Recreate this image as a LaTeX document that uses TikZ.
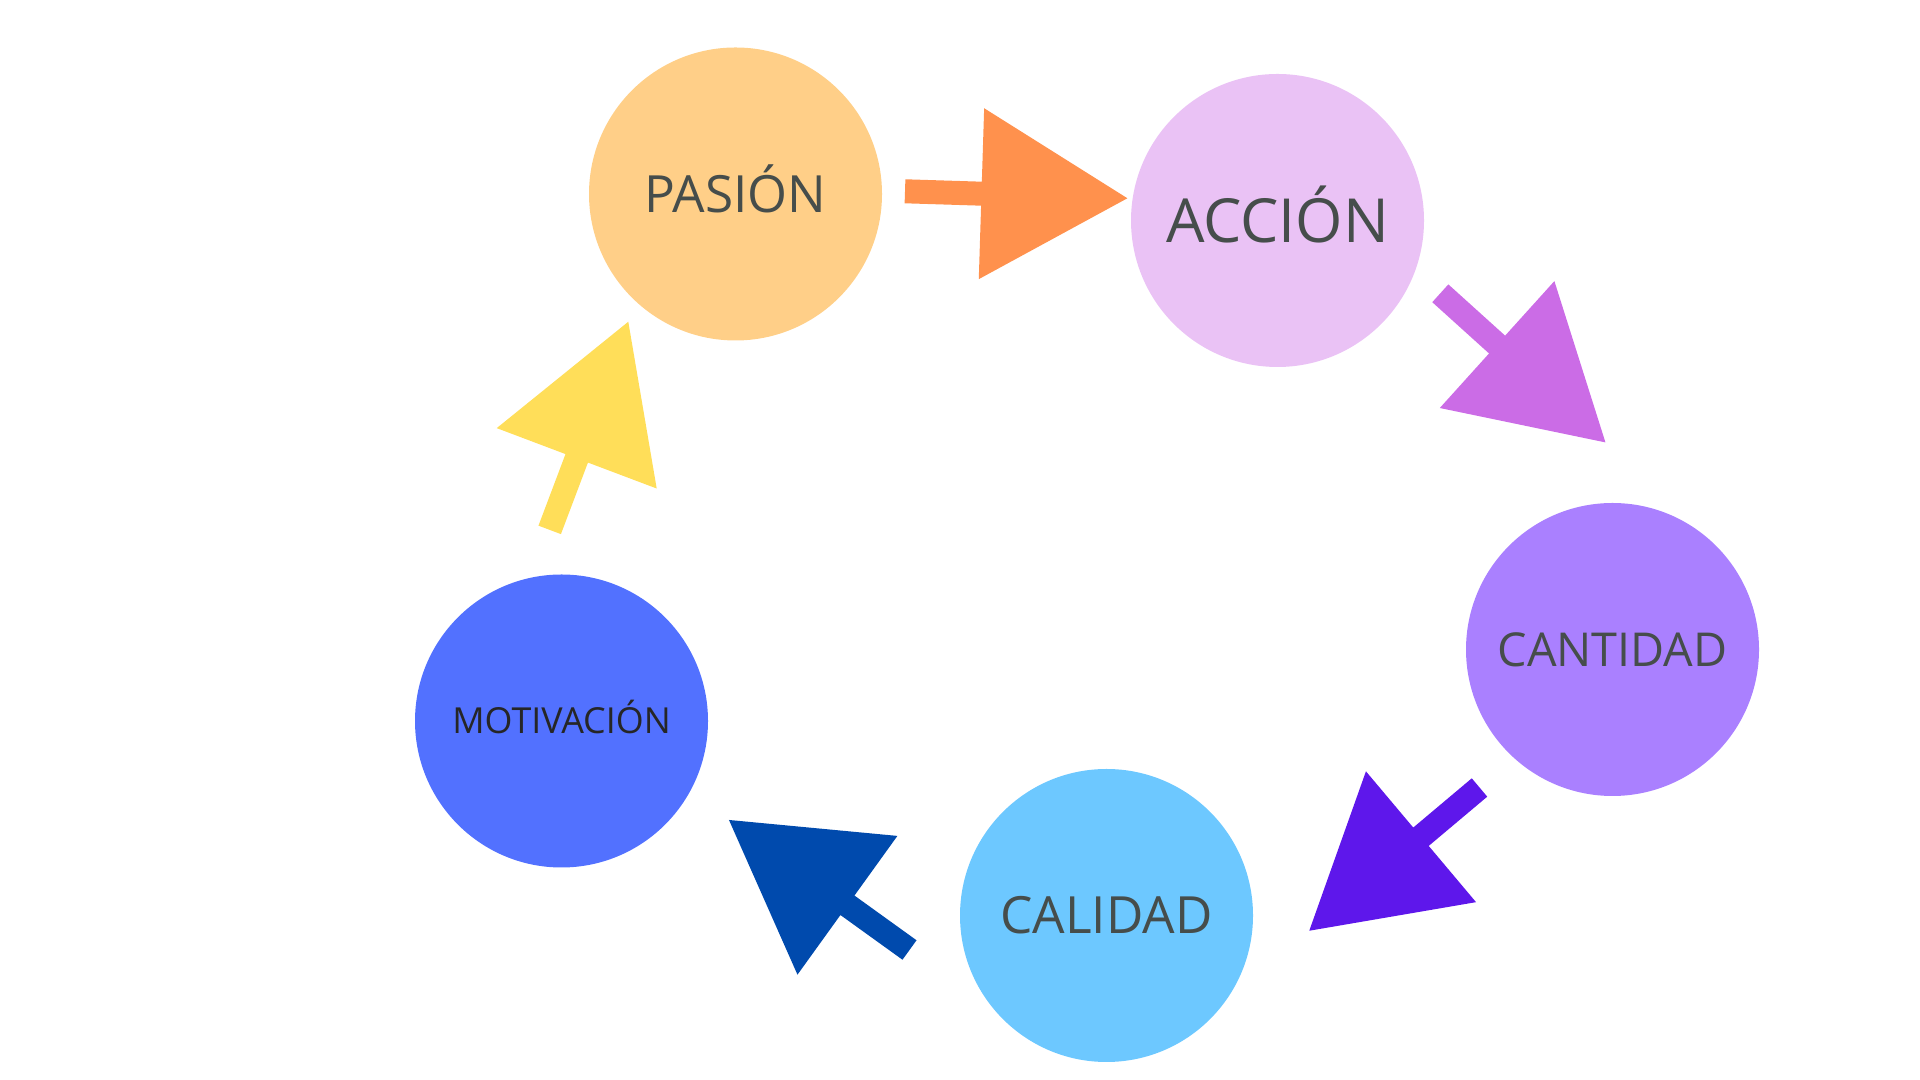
\documentclass[tikz,border=0pt]{standalone}
\usepackage{fontspec}
\setmainfont{Open Sans}
\usepackage{xcolor}
\usetikzlibrary{positioning,calc}
\definecolor{cpasion}{HTML}{FFCF88}
\definecolor{caccion}{HTML}{EAC2F5}
\definecolor{ccantidad}{HTML}{AA80FF}
\definecolor{ccalidad}{HTML}{6DC8FF}
\definecolor{cmotiv}{HTML}{5271FF}
\definecolor{aorange}{HTML}{FF914D}
\definecolor{apurple}{HTML}{CB6CE6}
\definecolor{aviolet}{HTML}{5E17EB}
\definecolor{ablue}{HTML}{004AAD}
\definecolor{ayellow}{HTML}{FFDE59}
\definecolor{txtgray}{HTML}{464D4B}
\tikzset{stage/.style={circle,minimum size=2.93cm,inner sep=0pt,text=txtgray,text depth=0pt}  }
% block arrow from tail to tip, same size for all
\newcommand{\blockarrow}[3]{%
  \pgfmathanglebetweenpoints{\pgfpointanchor{#2}{center}}{\pgfpointanchor{#3}{center}}%
  \let\arrang\pgfmathresult
  \fill[#1,shift={(#2)},rotate=\arrang] (0,-0.12) -- (0.765,-0.12) -- (0.765,-0.855) -- (2.225,0) -- (0.765,0.855) -- (0.765,0.12) -- (0,0.12) -- cycle;}

\begin{document}
\begin{tikzpicture}
	\useasboundingbox (0,0) rectangle (19.2,10.8);
		\node[stage,fill=cpasion,font=\fontsize{14.6}{16}\selectfont,text height=10.4pt] (pasion) at (7.355,8.86) {PASIÓN};
		\node[stage,fill=caccion,font=\fontsize{17.3}{19}\selectfont,text height=12.35pt] (accion) at (12.775,8.595) {ACCIÓN};
		\node[stage,fill=ccantidad,font=\fontsize{13.3}{15}\selectfont,text height=9.5pt] (cantidad) at (16.125,4.305) {CANTIDAD};
		\node[stage,fill=ccalidad,font=\fontsize{14.6}{16}\selectfont,text height=10.4pt] (calidad) at (11.065,1.645) {CALIDAD};
		\node[stage,fill=cmotiv,text=black!85,font=\fontsize{10.2}{12}\selectfont,text height=7.3pt] (motiv) at (5.615,3.59) {MOTIVACIÓN};

		\coordinate (t1) at (9.05,8.887);   \coordinate (h1) at (11.277,8.817);
		\coordinate (t2) at (14.403,7.867); \coordinate (h2) at (16.053,6.377);
		\coordinate (t3) at (14.795,2.925); \coordinate (h3) at (13.093,1.493);
		\coordinate (t4) at (9.095,1.30);   \coordinate (h4) at (7.29,2.60);
		\coordinate (t5) at (5.497,5.501);  \coordinate (h5) at (6.283,7.583);

		\blockarrow{aorange}{t1}{h1}
		\blockarrow{apurple}{t2}{h2}
		\blockarrow{aviolet}{t3}{h3}
		\blockarrow{ablue}{t4}{h4}
		\blockarrow{ayellow}{t5}{h5}
\end{tikzpicture}
\end{document}
